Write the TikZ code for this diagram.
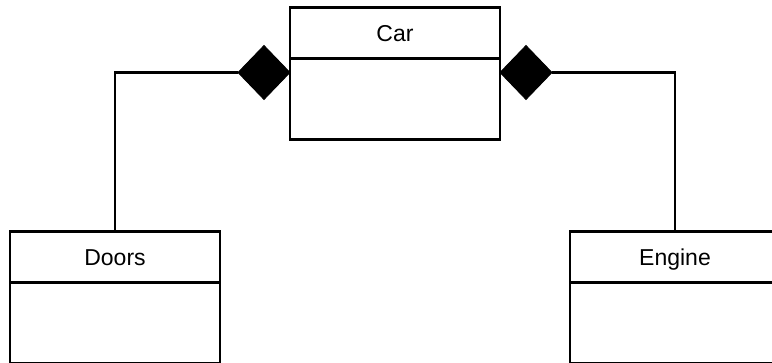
\documentclass[tikz,border=0pt]{standalone}
\usepackage{fontspec}
\setmainfont{Liberation Sans}
\usetikzlibrary{shapes.geometric}
\begin{document}
\begin{tikzpicture}[x=1pt,y=-1pt,
  every node/.style={inner sep=0pt, outer sep=0pt},
  head/.style={draw, line width=2.4pt, minimum width=210pt, minimum height=51pt, anchor=north, text height=16.5pt, text depth=0pt, font=\fontsize{23}{27}\selectfont},
  bodybox/.style={draw, line width=2.4pt, minimum width=210pt, minimum height=81pt, anchor=north},
  diam/.style={diamond, fill=black, draw=black, line width=0.8pt, minimum width=52pt, minimum height=54pt, inner sep=0pt, shape aspect=1},
  link/.style={line width=2.2pt}]
\useasboundingbox (0,0) rectangle (772,363);
\clip (0,0) rectangle (772,363);
% Car
\node[head] (carh) at (395,7.5) {Car};
\node[bodybox] (carb) at (carh.south) {};
% Doors
\node[head] (doorsh) at (115,231.7) {Doors};
\node[bodybox] (doorsb) at (doorsh.south) {};
% Engine
\node[head] (engh) at (675,231.7) {Engine};
\node[bodybox] (engb) at (engh.south) {};
% diamonds
\node[diam, anchor=east] (dl) at (290,72.5) {};
\node[diam, anchor=west] (dr) at (500,72.5) {};
% connectors
\draw[link] (dl.west) -| (doorsh.north);
\draw[link] (dr.east) -| (engh.north);
\end{tikzpicture}
\end{document}
